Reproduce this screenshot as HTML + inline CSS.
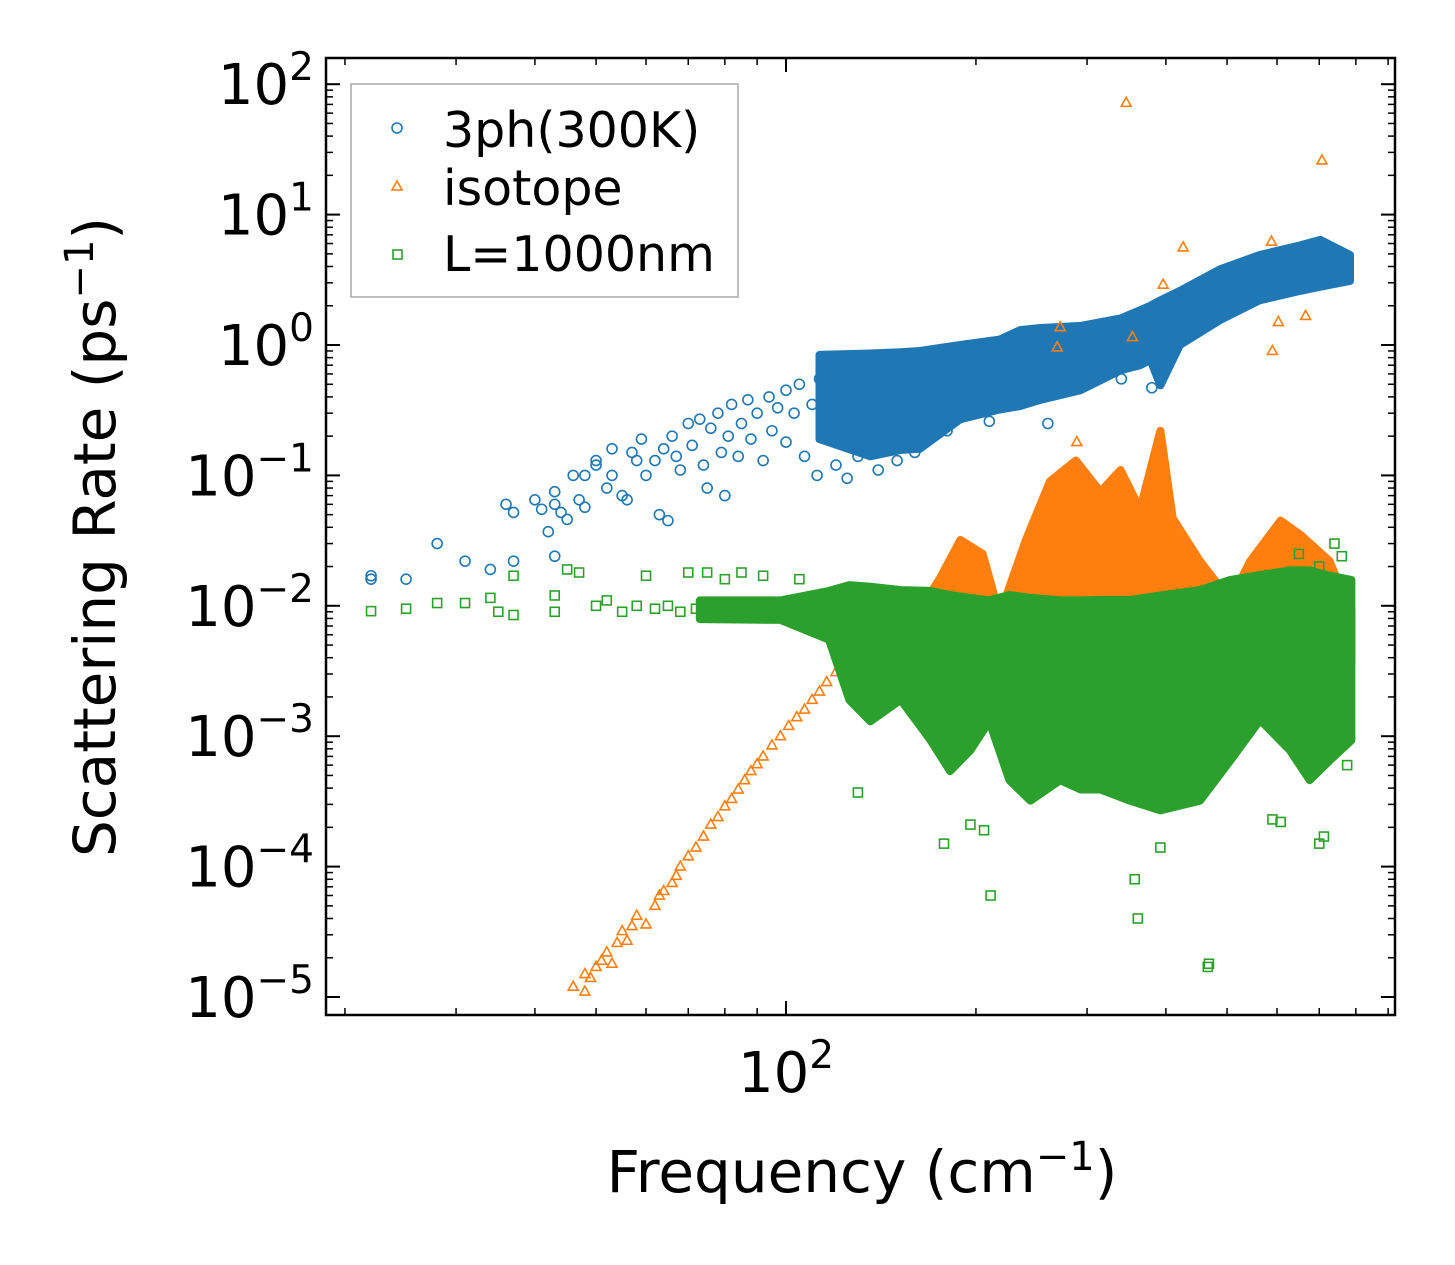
<!DOCTYPE html>
<html><head><meta charset="utf-8"><style>
body{margin:0;background:#fff}
svg{display:block;font-family:"DejaVu Sans","Liberation Sans",sans-serif}
</style></head><body>
<svg id="chart" width="1455" height="1265" viewBox="0 0 1455 1265" xmlns="http://www.w3.org/2000/svg">
<rect width="1455" height="1265" fill="#fff"/>
<g id="marks"></g>
<g id="axes"></g>
<text x="862" y="1192" font-size="58" text-anchor="middle">Frequency (cm<tspan dy="-22" font-size="40">−1</tspan><tspan dy="22">)</tspan></text>
<text transform="translate(115,537) rotate(-90)" font-size="58" text-anchor="middle">Scattering Rate (ps<tspan dy="-22" font-size="40">−1</tspan><tspan dy="22">)</tspan></text>
<g>
<rect x="351" y="84" width="387" height="213" fill="#fff" fill-opacity="0.8" stroke="#aaa" stroke-width="1.5"/>
<circle cx="397" cy="128" r="5" fill="none" stroke="#1f77b4" stroke-width="1.6"/>
<text x="443" y="147" font-size="49">3ph(300K)</text>
<polygon points="397,181 402,190 392,190" fill="none" stroke="#ff7f0e" stroke-width="1.6"/>
<text x="443" y="205" font-size="49">isotope</text>
<rect x="393" y="250" width="9" height="9" fill="none" stroke="#2ca02c" stroke-width="1.6"/>
<text x="443" y="271" font-size="49">L=1000nm</text>
</g>
</svg>
<script>
// ---- data ----
const blueFreq=[22,22,25,28,31,34,36,37,37,40,41,42,43,43,43,44,45,46,47,48,48,50,50,52,53,53,55,56,57,58,59,60,62,63,64,65,66,67,68,70,71,73,74,75,76,78,79,80,81,82,84,85,87,88,90,92,94,95,97,100,100,103,105,107,110,112,113,115,120,125,130,140,150,160,170,180,210,260,340,380,390];
const blueRate=[0.017,0.016,0.016,0.030,0.022,0.019,0.060,0.022,0.052,0.065,0.055,0.037,0.075,0.060,0.024,0.052,0.046,0.10,0.065,0.10,0.057,0.12,0.13,0.08,0.10,0.16,0.07,0.065,0.15,0.13,0.19,0.10,0.13,0.05,0.16,0.045,0.20,0.14,0.11,0.25,0.17,0.27,0.12,0.08,0.23,0.30,0.15,0.07,0.20,0.35,0.14,0.25,0.38,0.19,0.30,0.13,0.40,0.22,0.33,0.45,0.18,0.30,0.50,0.14,0.35,0.10,0.55,0.25,0.12,0.095,0.14,0.11,0.13,0.15,0.20,0.22,0.26,0.25,0.55,0.47,0.6];
const blueBandFreq=[113,136,152,163,189,218,235,253,293,339,364,378,392,421,487,563,653,703,783];
const blueBandHi=[0.84,0.86,0.88,0.9,1.0,1.1,1.3,1.35,1.4,1.6,1.85,2.0,2.2,2.6,3.8,4.9,5.8,6.4,4.9];
const blueBandLo=[0.19,0.14,0.157,0.16,0.27,0.32,0.34,0.38,0.45,0.64,0.7,0.77,0.49,1.0,1.55,2.2,2.6,2.8,3.1];

const orangeFreq=[46,48,48,49,50,51,52,53,54,55,56,57,58,60,62,63,64,66,67,68,70,72,74,76,78,80,82,84,86,88,90,92,95,98,101,104,107,110,113,116,120,124,346,707,426,396,272,269,354,603,590,666,588,289];
const orangeRate=[1.2e-5,1.1e-5,1.5e-5,1.4e-5,1.7e-5,1.9e-5,2.2e-5,1.8e-5,2.6e-5,3.2e-5,2.7e-5,3.5e-5,4.2e-5,3.6e-5,5e-5,6e-5,6.5e-5,7.5e-5,8.5e-5,1e-4,1.2e-4,1.4e-4,1.7e-4,2.1e-4,2.4e-4,2.9e-4,3.3e-4,3.9e-4,4.6e-4,5.4e-4,6.1e-4,7e-4,8.5e-4,1.0e-3,1.2e-3,1.4e-3,1.6e-3,1.9e-3,2.2e-3,2.6e-3,3.1e-3,3.6e-3,72,26,5.6,2.9,1.37,0.96,1.15,1.5,0.9,1.67,6.2,0.18];
const orangeBandFreq=[126,152,175,189,205,218,240,262,288,315,339,364,392,410,453,506,544,608,654,727,787];
const orangeBandHi=[0.0055,0.0055,0.016,0.032,0.025,0.0085,0.032,0.09,0.13,0.075,0.11,0.055,0.22,0.047,0.022,0.011,0.022,0.045,0.035,0.022,0.0085];
const orangeBandLo=[0.002,0.002,0.004,0.006,0.007,0.008,0.008,0.008,0.008,0.008,0.008,0.008,0.008,0.008,0.008,0.008,0.008,0.008,0.008,0.008,0.004];

const greenFreq=[22,25,28,31,34,35,37,37,43,43,45,47,50,52,55,58,60,62,65,68,70,72,75,78,80,82,85,88,92,95,100,105,211,361,466,468,178,196,206,357,392,700,712,130,775,608,590,740,760,700,650];
const greenRate=[0.0091,0.0095,0.0105,0.0105,0.0115,0.009,0.0085,0.017,0.009,0.012,0.019,0.018,0.01,0.011,0.009,0.01,0.017,0.0095,0.01,0.009,0.018,0.0095,0.018,0.01,0.016,0.0095,0.018,0.009,0.017,0.009,0.0085,0.016,6e-5,4e-5,1.7e-5,1.8e-5,1.5e-4,2.1e-4,1.9e-4,8e-5,1.4e-4,1.5e-4,1.7e-4,3.7e-4,6e-4,2.2e-4,2.3e-4,0.03,0.024,0.02,0.025];
const greenBandFreq=[73,98,117,126,136,152,169,182,196,210,226,244,272,293,315,351,392,453,506,564,629,676,727,787];
const greenBandHi=[0.011,0.011,0.013,0.0144,0.014,0.0132,0.013,0.0121,0.0115,0.011,0.0121,0.0115,0.011,0.011,0.0111,0.0111,0.012,0.0132,0.0158,0.0172,0.0187,0.0187,0.017,0.0158];
const greenBandLo=[0.0079,0.0078,0.0055,0.0019,0.0013,0.0019,0.00095,0.00054,0.00078,0.0013,0.00046,0.00032,0.00046,0.00039,0.00039,0.00032,0.00027,0.00032,0.00065,0.00133,0.00078,0.00046,0.00065,0.00093];

const yTickExp=[2,1,0,-1,-2,-3,-4,-5];
const xMinorTicks=[20,30,40,50,60,70,80,90,200,300,400,500,600,700,800,900];

// ---- axes functions ----
const L=326,R=1395,T=58,B=1015;
const xs=f=>786+(Math.log10(f)-2)*631;
const ys=r=>345-Math.log10(r)*130.4;
const NS="http://www.w3.org/2000/svg";
const marks=document.getElementById('marks'),axes=document.getElementById('axes');
function mk(tag,attrs,parent){const e=document.createElementNS(NS,tag);for(const k in attrs)e.setAttribute(k,attrs[k]);parent.appendChild(e);return e;}

function band(freq,hi,lo,color,name){
  let pts=freq.map((f,i)=>xs(f).toFixed(1)+','+ys(hi[i]).toFixed(1));
  for(let i=freq.length-1;i>=0;i--)pts.push(xs(freq[i]).toFixed(1)+','+ys(lo[i]).toFixed(1));
  const p=mk('polygon',{points:pts.join(' '),fill:color,stroke:color,'stroke-width':8,'stroke-linejoin':'round'},marks);
  
  
}
function scatter(freq,rate,color,shape,name){
  freq.forEach((f,i)=>{
    const x=xs(f),y=ys(rate[i]);let e;
    if(shape==='c')e=mk('circle',{cx:x,cy:y,r:5,fill:'none',stroke:color,'stroke-width':1.6},marks);
    else if(shape==='t')e=mk('polygon',{points:`${x},${y-5.5} ${x+5},${y+3.5} ${x-5},${y+3.5}`,fill:'none',stroke:color,'stroke-width':1.6},marks);
    else e=mk('rect',{x:x-4.5,y:y-4.5,width:9,height:9,fill:'none',stroke:color,'stroke-width':1.6},marks);
    
    
  });
}
band(blueBandFreq,blueBandHi,blueBandLo,'#1f77b4','band-3ph');
scatter(blueFreq,blueRate,'#1f77b4','c','point-3ph');
band(orangeBandFreq,orangeBandHi,orangeBandLo,'#ff7f0e','band-isotope');
scatter(orangeFreq,orangeRate,'#ff7f0e','t','point-isotope');
band(greenBandFreq,greenBandHi,greenBandLo,'#2ca02c','band-boundary');
scatter(greenFreq,greenRate,'#2ca02c','s','point-boundary');

// frame
const fr=mk('rect',{x:L,y:T,width:R-L,height:B-T,fill:'none',stroke:'#000','stroke-width':2.5},axes);


// y ticks
yTickExp.forEach(e=>{
  const y=ys(Math.pow(10,e));
  mk('line',{x1:L,x2:L+14,y1:y,y2:y,stroke:'#000','stroke-width':2},axes);
  mk('line',{x1:R,x2:R-14,y1:y,y2:y,stroke:'#000','stroke-width':2},axes);
  const t=mk('text',{x:314,y:y+20,'font-size':56,'text-anchor':'end'},axes);
  
  
  const s=e<0?'−'+(-e):String(e);
  t.innerHTML='10<tspan dy="-24" font-size="39">'+s+'</tspan>';
  if(e>-5){for(let m=2;m<=9;m++){const ym=ys(m*Math.pow(10,e-1));
    mk('line',{x1:L,x2:L+7,y1:ym,y2:ym,stroke:'#000','stroke-width':1.5},axes);
    mk('line',{x1:R,x2:R-7,y1:ym,y2:ym,stroke:'#000','stroke-width':1.5},axes);}}
});
// x ticks
const x100=xs(100);
mk('line',{x1:x100,x2:x100,y1:B,y2:B-14,stroke:'#000','stroke-width':2},axes);
mk('line',{x1:x100,x2:x100,y1:T,y2:T+14,stroke:'#000','stroke-width':2},axes);
const xl=mk('text',{x:x100,y:1092,'font-size':56,'text-anchor':'middle'},axes);


xl.innerHTML='10<tspan dy="-24" font-size="39">2</tspan>';
xMinorTicks.forEach(f=>{const x=xs(f);if(x<L||x>R)return;
  mk('line',{x1:x,x2:x,y1:B,y2:B-7,stroke:'#000','stroke-width':1.5},axes);
  mk('line',{x1:x,x2:x,y1:T,y2:T+7,stroke:'#000','stroke-width':1.5},axes);});
</script>
</body></html>
